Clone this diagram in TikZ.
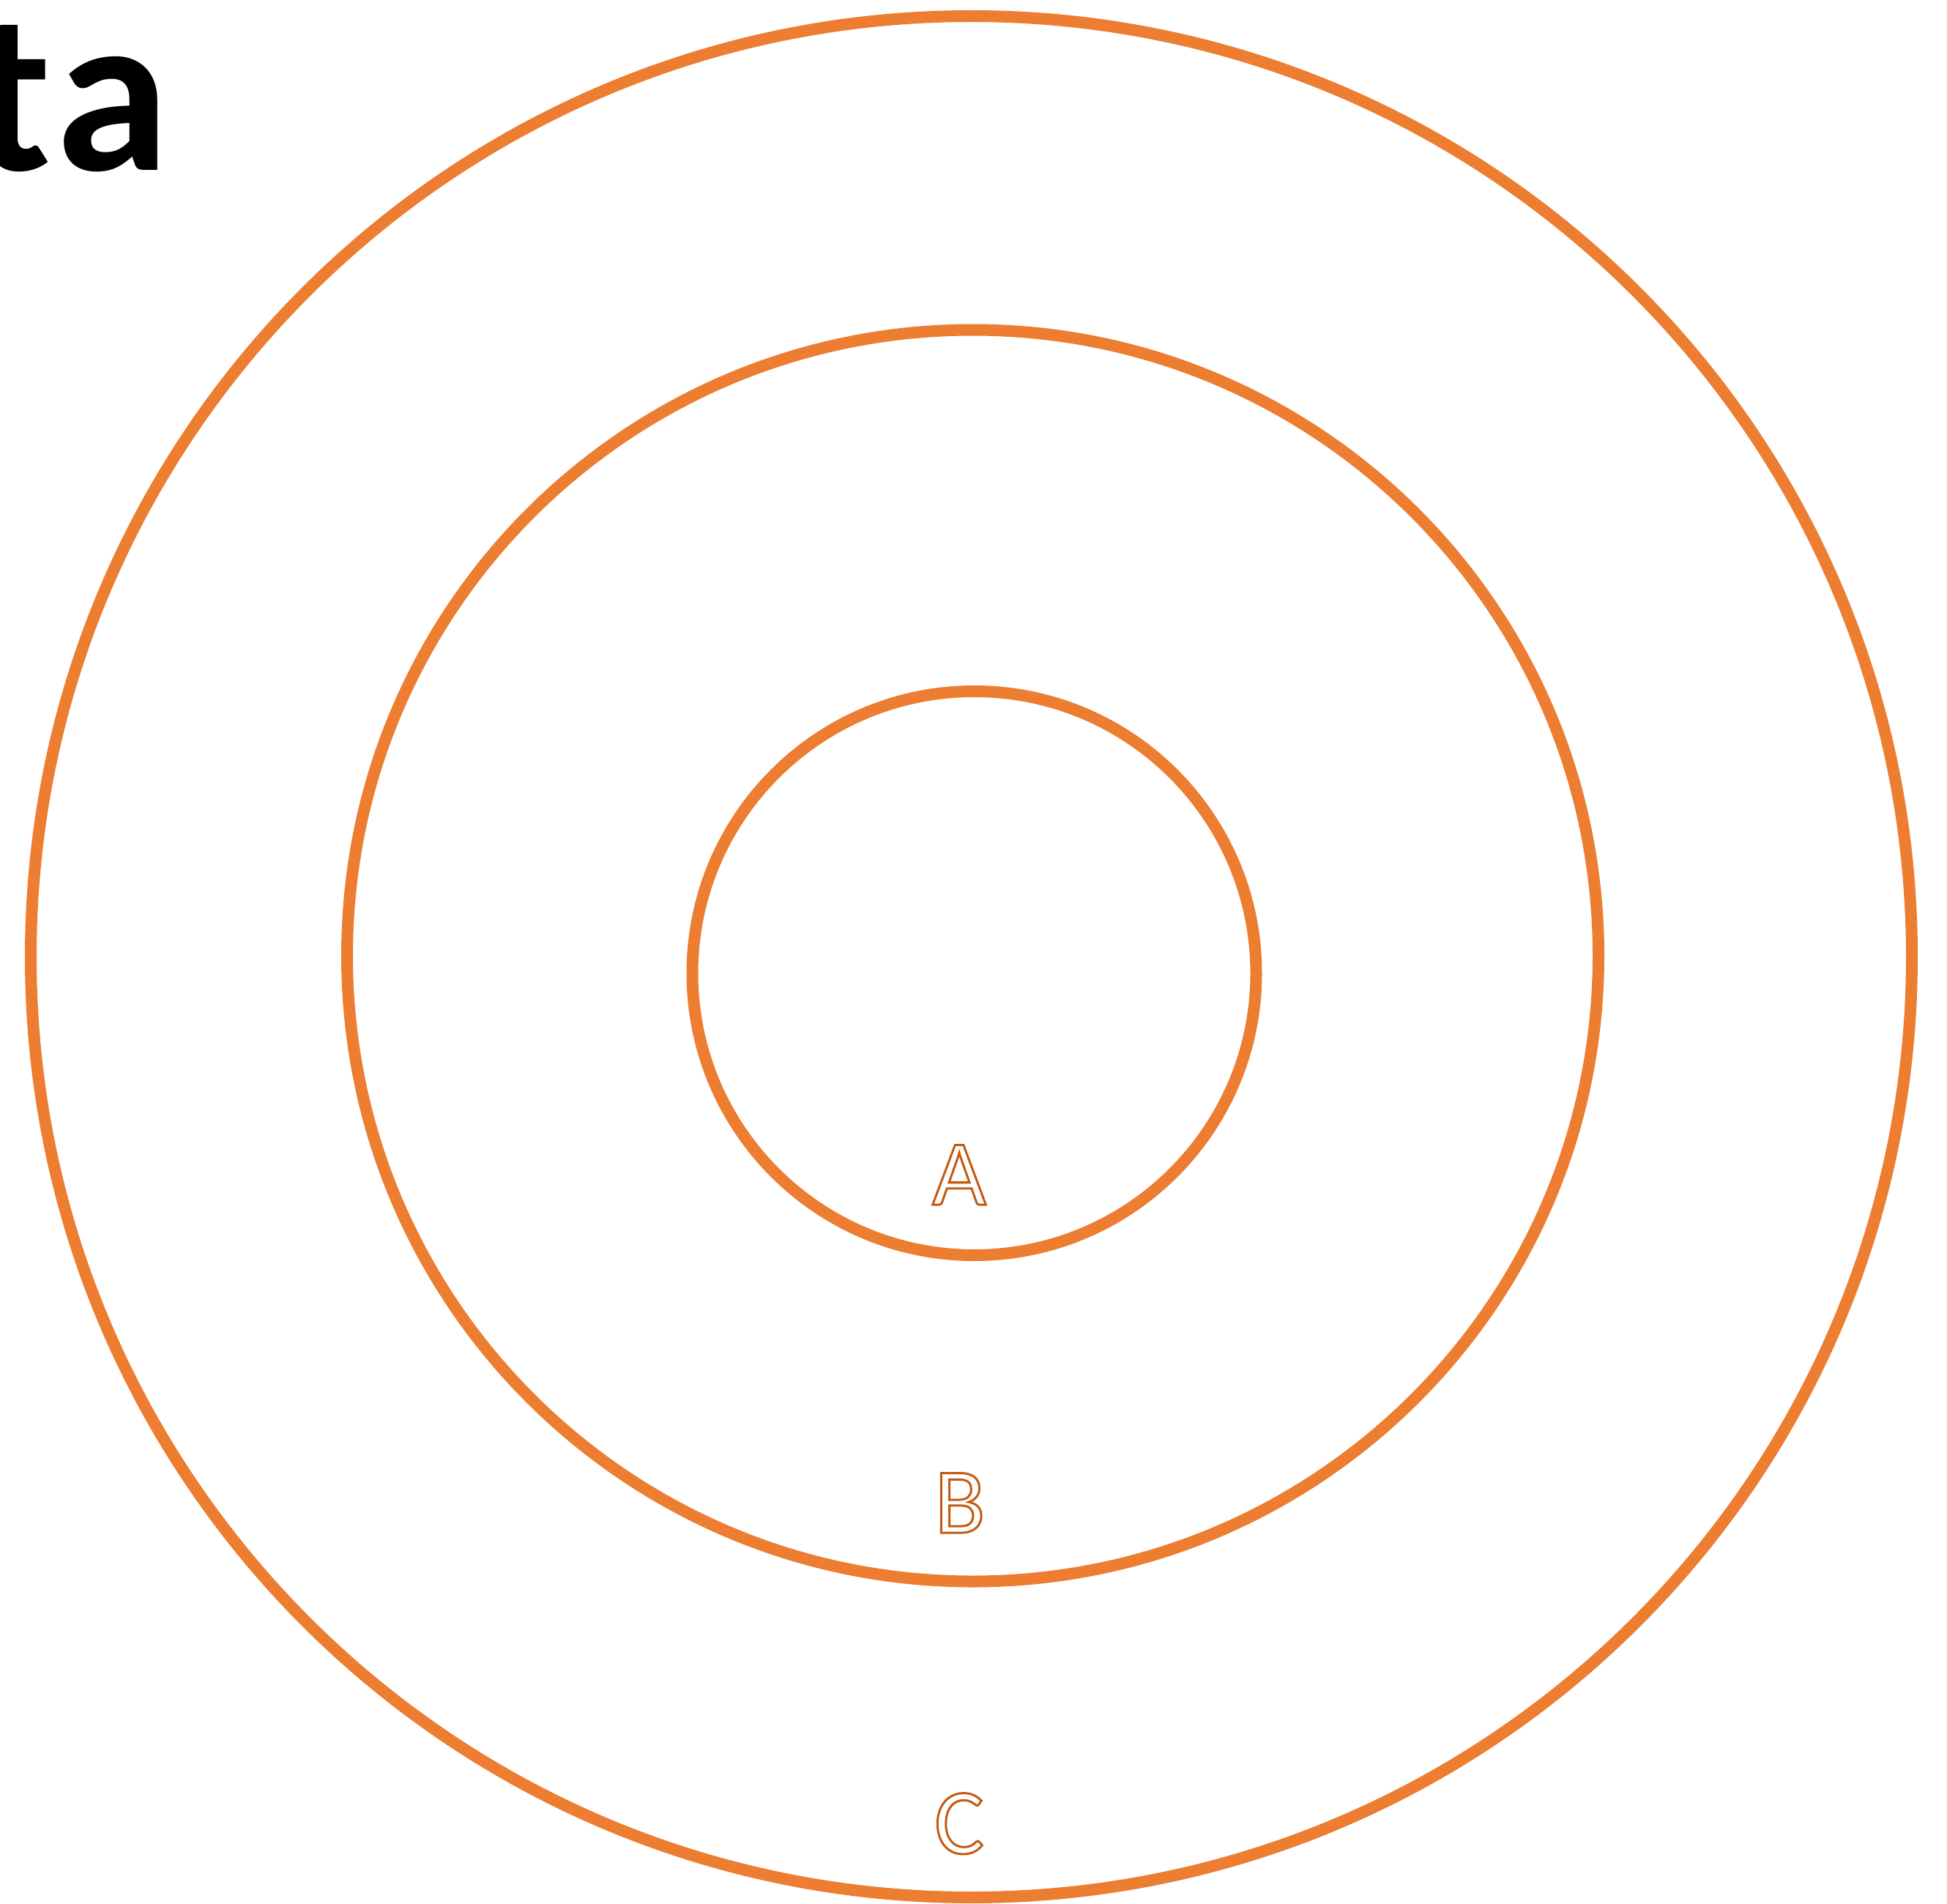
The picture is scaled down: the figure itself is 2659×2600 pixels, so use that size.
\documentclass[tikz,border=0pt]{standalone}
\usepackage{fontspec}
\setmainfont{Carlito}
\definecolor{orng}{HTML}{ED7D31}
\definecolor{orngdark}{HTML}{C55A11}
\newcommand{\outlinetxt}[1]{\special{pdf:literal direct 1 Tr 1.5 w}#1\special{pdf:literal direct 0 Tr}}
\tikzset{
  ring/.style={circle, draw=orng, line width=8pt, inner sep=0pt, outer sep=0pt},
  ringlabel/.style={anchor=base, inner sep=0pt, text=orngdark, font=\fontsize{63.5pt}{70pt}\selectfont},
  titletext/.style={anchor=base east, inner sep=0pt, text=black, font=\fontsize{157pt}{170pt}\selectfont\bfseries}
}
\begin{document}
\begin{tikzpicture}[x=0.5pt,y=-0.5pt]
\useasboundingbox[fill=white] (0,0) rectangle (2659,2600);
\node[ring, minimum size=1284.5pt] (outer) at (1326.5,1306.5) {};
\node[ring, minimum size=854.5pt] (middle) at (1328.5,1305) {};
\node[ring, minimum size=385pt] (inner) at (1330.5,1329) {};
\node[titletext] (title) at (232,233) {t\kern3pt a};
\node[ringlabel] (la) at (1310,1645) {\outlinetxt{A}};
\node[ringlabel] (lb) at (1311,2093) {\outlinetxt{B}};
\node[ringlabel] (lc) at (1310,2531) {\outlinetxt{C}};
\end{tikzpicture}
\end{document}
